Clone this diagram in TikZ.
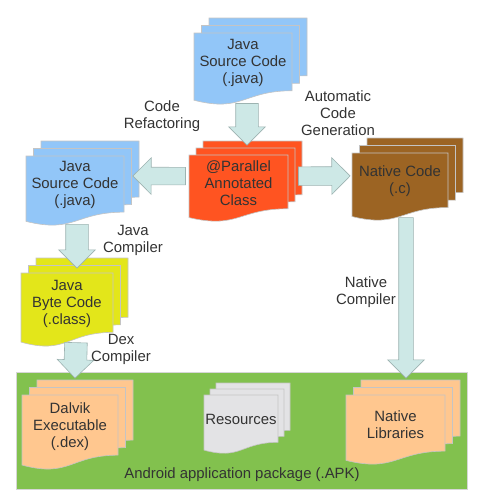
\documentclass[tikz,border=0pt]{standalone}
\usepackage{fontspec}
\setmainfont{Liberation Sans}
\usepackage{xcolor}
\usepackage{tikz}
\usetikzlibrary{positioning,shapes,arrows,calc}

\definecolor{javablue}{HTML}{92C6F8}
\definecolor{parallelred}{HTML}{FF5421}
\definecolor{nativebrown}{HTML}{9C6423}
\definecolor{byteyellow}{HTML}{E3E61A}
\definecolor{peach}{HTML}{FFC78F}
\definecolor{resgray}{HTML}{E3E3E5}
\definecolor{apkgreen}{HTML}{82C14E}
\definecolor{arrowfill}{HTML}{CDE8E6}
\definecolor{arrowline}{HTML}{9DB3B1}
\definecolor{pageline}{HTML}{C4C4C4}
\definecolor{textgray}{HTML}{333333}

\tikzstyle{page}=[draw=pageline, line width=0.6pt]
\tikzstyle{front}=[rectangle, inner sep=0pt, text=textgray, align=center,
        font=\fontsize{14.9}{17}\selectfont]
\tikzstyle{flowlabel}=[front]
\tikzstyle{bigarrow}=[single arrow, draw=arrowline, fill=arrowfill, line width=0.6pt,
        inner xsep=0pt, minimum width=0pt]
\tikzstyle{apkbox}=[rectangle, draw=pageline!70, fill=apkgreen, line width=0.8pt]

% name, x, y, width, height, offset, colour, text
\newcommand{\docstack}[8]{%
    \foreach \k in {2,1,0}
        \path[page, fill=#7, shift={({#2+\k*#6},{#3-\k*#6})}]
            (0,0) -- (#4,0) -- (#4,{0.802*#5})
            .. controls ({0.5*#4},{0.802*#5}) and ({0.5*#4},{1.107*#5}) .. (0,{0.934*#5}) -- cycle;
    \node (#1) [front, minimum width=#4pt, minimum height={0.84pt*#5}]
        at ({#2+0.5*#4},{#3+0.42*#5}) {#8};
}
% [shaft width] from, to
\newcommand{\fatarrow}[3][20]{%
    \path let \p1=#2, \p2=#3, \n1={atan2(\y2-\y1,\x2-\x1)}, \n2={veclen(\x2-\x1,\y2-\y1)} in
        node[bigarrow, rotate=\n1, anchor=tail, minimum height=\n2,
            inner ysep={#1pt/2}, single arrow head extend={(36pt-#1pt)/2}] at (\p1) {};
}

\begin{document}
\begin{tikzpicture}[x=1pt, y=-1pt]
    \useasboundingbox (0,0) rectangle (485,504);

    \node (apk) [apkbox, minimum width=451pt, minimum height=117pt] at (241.5,430.5) {};

    \docstack{srctop}{194}{33}{98}{72}{7.5}{javablue}{Java\\Source Code\\(.java)}
    \docstack{parallel}{189}{155}{99}{67}{7}{parallelred}{@Parallel\\Annotated\\Class}
    \docstack{natcode}{352}{153}{96}{68}{7.5}{nativebrown}{Native Code\\(.c)}
    \docstack{srcleft}{26}{156}{98}{70}{7.5}{javablue}{Java\\Source Code\\(.java)}
    \docstack{bytecode}{21}{273}{92}{74}{7.5}{byteyellow}{Java\\Byte Code\\(.class)}
    \docstack{dalvik}{22}{395}{96}{75}{7.5}{peach}{Dalvik\\Executable\\(.dex)}
    \docstack{res}{204}{395}{74}{59}{6}{resgray}{Resources}
    \docstack{natlib}{346}{395}{99}{70}{7.5}{peach}{Native\\Libraries}

    \fatarrow[22]{($(srctop.south)+(4,9.5)$)}{($(parallel.north)+(8.5,-10)$)}
    \fatarrow[17]{($(parallel.west)+(-3,-7)$)}{($(srcleft.east)+(9,-9.4)$)}
    \fatarrow[18]{($(parallel.east)+(10,-7)$)}{($(natcode.west)+(-2,-5.6)$)}
    \fatarrow[22]{($(srcleft.south)+(2,9)$)}{($(bytecode.north)+(10,-5)$)}
    \fatarrow[22]{($(bytecode.south)+(9,7)$)}{($(dalvik.north)+(5,-17)$)}
    \fatarrow[14]{($(natcode.south)+(6,7)$)}{($(natlib.north)+(10.5,-17)$)}

    \node (lblrefactor) [flowlabel] at (162,116) {Code\\Refactoring};
    \node (lblautogen) [flowlabel] at (338,113) {Automatic\\Code\\Generation};
    \node (lbljavac) [flowlabel] at (133,240) {Java\\Compiler};
    \node (lbldex) [flowlabel] at (121,349) {Dex\\Compiler};
    \node (lblnatcomp) [flowlabel] at (366,292) {Native\\Compiler};
    \node (apklabel) [flowlabel] at (242,475) {Android application package (.APK)};
\end{tikzpicture}
\end{document}
